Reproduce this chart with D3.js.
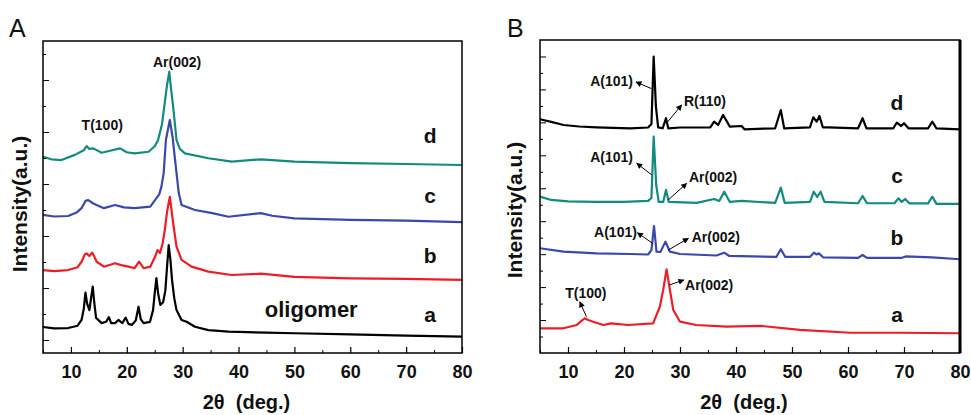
<!DOCTYPE html>
<html>
<head>
<meta charset="utf-8">
<script src="https://cdn.jsdelivr.net/npm/d3@7"></script>
<style>
body { margin: 0; background: #fff; }
text { font-family: "Liberation Sans", Arial, sans-serif; }
</style>
</head>
<body>
<div id="chart"></div>
<script>
var W = 971, H = 415;

// panel A series: [2theta, intensity]
var A_a = [[5,1.0],[7,0.95],[9.5,0.96],[11.2,1.05],[11.9,1.27],[12.3,1.7],[12.6,2.32],[12.9,1.9],[13.3,1.65],[13.6,2.1],[13.9,2.55],[14.2,1.9],[14.5,1.35],[15.5,1.15],[16.3,1.2],[16.8,1.38],[17.2,1.15],[17.9,1.15],[18.5,1.27],[19.2,1.15],[19.8,1.36],[20.3,1.12],[20.9,1.08],[21.6,1.25],[22.1,1.78],[22.5,1.3],[23.0,1.15],[24.15,1.2],[24.7,1.65],[25.0,2.3],[25.3,2.88],[25.6,2.3],[26.0,1.85],[26.5,1.95],[26.9,2.4],[27.2,3.3],[27.5,4.15],[27.8,3.6],[28.1,2.8],[28.5,2.1],[28.9,1.65],[29.8,1.27],[30.7,1.2],[32.2,1.01],[34.6,0.88],[38.2,0.82],[45,0.78],[50,0.76],[60,0.72],[70,0.67],[80,0.63]];
var A_b = [[5,3.19],[7,3.15],[9.5,3.19],[11.2,3.3],[11.9,3.51],[12.5,3.8],[12.8,3.83],[13.3,3.73],[13.8,3.86],[14.2,3.7],[14.6,3.51],[15.9,3.32],[17.9,3.45],[19,3.38],[20.3,3.32],[21.4,3.26],[22.2,3.51],[23.0,3.26],[24.2,3.32],[25.05,3.7],[25.5,3.96],[25.95,3.85],[26.4,4.2],[26.8,4.73],[27.2,5.42],[27.7,6.01],[28.0,5.5],[28.3,4.99],[28.9,4.09],[29.8,3.58],[31.6,3.32],[34.6,3.13],[38.8,3.0],[44,3.05],[50,2.93],[60,2.87],[70,2.85],[80,2.81]];
var A_c = [[5,5.31],[7,5.25],[9.5,5.27],[11.0,5.4],[11.9,5.57],[12.6,5.85],[13.1,5.88],[14.0,5.75],[14.6,5.69],[15.9,5.57],[17.9,5.69],[19.5,5.6],[21.4,5.57],[24.2,5.63],[25.05,5.88],[25.8,6.1],[26.2,6.4],[26.6,6.92],[27.0,8.19],[27.7,8.96],[28.2,8.3],[28.5,7.7],[28.9,6.92],[29.3,6.15],[29.8,5.69],[32.2,5.5],[35.3,5.38],[38.2,5.24],[44,5.38],[46,5.28],[50,5.18],[60,5.12],[70,5.09],[80,5.03]];
var A_d = [[5,7.55],[6.5,7.45],[8.3,7.42],[10.7,7.62],[12.3,7.8],[12.8,7.96],[13.3,7.85],[14,7.87],[15.5,7.7],[17,7.78],[18.8,7.87],[20,7.72],[21.4,7.68],[23.9,7.74],[25.0,7.95],[25.6,8.19],[26.3,8.8],[26.7,9.47],[27.2,10.3],[27.6,10.82],[27.9,10.2],[28.3,9.47],[28.9,8.19],[29.5,7.85],[30.4,7.68],[34.6,7.49],[38.8,7.36],[44,7.45],[50,7.36],[60,7.3],[70,7.27],[80,7.23]];

// panel B series
var B_a = [[5,1.5],[9.2,1.5],[11.55,1.7],[12.4,1.95],[13.0,2.11],[13.6,2.0],[14.5,1.9],[16.3,1.7],[17.7,1.8],[20.7,1.7],[25.2,1.8],[26.4,2.81],[27.0,3.83],[27.6,5.08],[28.2,3.83],[28.8,2.61],[30,1.9],[32.9,1.7],[38.3,1.6],[44.3,1.65],[51.4,1.4],[60.4,1.23],[69.3,1.23],[80,1.2]];
var B_b = [[5,6.36],[9.2,6.15],[15.1,6.05],[21.1,6.01],[24.3,5.98],[24.9,6.25],[25.36,7.71],[25.8,6.15],[26.5,6.13],[27.4,6.76],[28.2,6.15],[30,6.01],[36.5,5.92],[37.9,6.09],[38.8,5.89],[47.2,5.83],[48.0,6.3],[48.8,5.83],[53.2,5.83],[53.9,6.09],[54.4,5.98],[54.8,6.05],[55.6,5.8],[61.8,5.77],[62.6,5.95],[63.4,5.77],[69.5,5.77],[70.3,5.86],[75,5.8],[80,5.69]];
var B_c = [[5,9.49],[7,9.29],[10,9.2],[15,9.17],[20,9.17],[24.3,9.23],[24.9,9.41],[25.3,13.13],[25.75,10.2],[26.2,9.17],[27.0,9.17],[27.5,9.9],[28.0,9.17],[33,9.11],[36.1,9.35],[37.0,9.23],[37.9,9.79],[38.9,9.17],[41,9.23],[47,9.11],[48.0,10.04],[48.7,9.11],[53.2,9.17],[53.9,9.79],[54.5,9.47],[55.1,9.79],[55.8,9.17],[61.8,9.09],[62.6,9.53],[63.4,9.09],[68.3,9.09],[69.0,9.39],[69.6,9.17],[70.2,9.35],[71,9.08],[74.3,9.08],[75.05,9.49],[75.8,9.05],[80,9.05]];
var B_d = [[5,14.19],[7,14.03],[9.2,13.84],[12,13.75],[15.1,13.7],[21.1,13.64],[24.3,13.69],[24.9,13.9],[25.3,17.99],[25.7,14.95],[26.1,13.7],[26.9,13.64],[27.5,14.25],[27.9,13.64],[30,13.69],[35.4,13.7],[36.1,14.04],[36.8,13.84],[37.7,14.45],[38.9,13.74],[41.0,13.78],[41.5,13.58],[47.0,13.64],[48.0,14.75],[48.6,13.64],[53.2,13.7],[53.8,14.31],[54.4,14.04],[54.9,14.39],[55.5,13.7],[56.5,13.7],[61.8,13.64],[62.6,14.25],[63.3,13.64],[68.1,13.64],[68.7,13.98],[69.5,13.78],[70.0,13.95],[70.8,13.64],[74.3,13.64],[75.05,14.04],[75.8,13.64],[80,13.58]];

var xTicks = [10, 20, 30, 40, 50, 60, 70, 80];
var xMinor = [5, 15, 25, 35, 45, 55, 65, 75];
var curveNames = ["a", "b", "c", "d"];
var colorsA = ["#000000", "#ee1c25", "#3a48ab", "#128a80"];
var colorsB = ["#ee1c25", "#3a48ab", "#128a80", "#000000"];

var svg = d3.select("#chart").append("svg")
    .attr("width", W)
    .attr("height", H);

var defs = svg.append("defs");
defs.append("marker")
    .attr("id", "head")
    .attr("viewBox", "0 0 10 10")
    .attr("refX", 9).attr("refY", 5)
    .attr("markerWidth", 8).attr("markerHeight", 6)
    .attr("markerUnits", "userSpaceOnUse")
    .attr("orient", "auto-start-reverse")
    .append("path")
    .attr("d", "M0,0 L10,5 L0,10 z")
    .attr("fill", "#000");

function panel(cfg) {
    var x = d3.scaleLinear().domain([5, 80]).range([cfg.left, cfg.right]);
    var y = d3.scaleLinear().domain([0, cfg.ymax]).range([353, cfg.top]);
    var g = svg.append("g");

    // curves
    var line = d3.line()
        .x(function(d) { return x(d[0]); })
        .y(function(d) { return y(d[1]); });
    cfg.series.forEach(function(s, i) {
        g.append("path")
            .datum(s)
            .attr("d", line)
            .attr("fill", "none")
            .attr("stroke", cfg.colors[i])
            .attr("stroke-width", 2.2)
            .attr("stroke-linejoin", "round");
    });

    // bottom axis, ticks pointing in
    var xAxis = g.append("g")
        .attr("transform", "translate(0,353)")
        .call(d3.axisBottom(x).tickValues(xTicks).tickSize(-6).tickPadding(12).tickFormat(d3.format("d")));
    xAxis.select(".domain").remove();
    xAxis.selectAll("line").attr("stroke-width", 1.2);
    xAxis.selectAll("text")
        .attr("font-size", "18px")
        .attr("font-weight", "bold")
        .attr("fill", "#111");
    var xAxis2 = g.append("g")
        .attr("transform", "translate(0,353)")
        .call(d3.axisBottom(x).tickValues(xMinor).tickSize(-3).tickFormat(""));
    xAxis2.select(".domain").remove();

    // left axis, no labels
    var yAxis = g.append("g")
        .attr("transform", "translate(" + cfg.left + ",0)")
        .call(d3.axisLeft(y).tickValues(cfg.yMajor).tickSize(-6).tickFormat(""));
    yAxis.select(".domain").remove();
    var yAxis2 = g.append("g")
        .attr("transform", "translate(" + cfg.left + ",0)")
        .call(d3.axisLeft(y).tickValues(cfg.yMinor).tickSize(-3).tickFormat(""));
    yAxis2.select(".domain").remove();

    // frame
    g.append("rect")
        .attr("x", cfg.left).attr("y", cfg.top)
        .attr("width", cfg.right - cfg.left)
        .attr("height", 353 - cfg.top)
        .attr("fill", "none")
        .attr("stroke", "#000")
        .attr("stroke-width", 1.5);
    if (cfg.thickRight) {
        g.append("line")
            .attr("x1", cfg.right).attr("x2", cfg.right)
            .attr("y1", cfg.top).attr("y2", 353)
            .attr("stroke", "#000").attr("stroke-width", 3);
    }

    // titles
    g.append("text")
        .attr("x", (cfg.left + cfg.right) / 2 - 6)
        .attr("y", 409)
        .attr("text-anchor", "middle")
        .attr("font-size", "20px")
        .attr("font-weight", "bold")
        .attr("fill", "#111")
        .style("white-space", "pre")
        .text("2\u03b8  (deg.)");
    g.append("text")
        .attr("transform", "translate(" + cfg.ytx + "," + cfg.yty + ") rotate(-90)")
        .attr("text-anchor", "middle")
        .attr("font-size", "21px")
        .attr("font-weight", "bold")
        .attr("fill", "#111")
        .text("Intensity(a.u.)");
    g.append("text")
        .attr("x", cfg.letterX)
        .attr("y", 37)
        .attr("font-size", "25px")
        .attr("fill", "#111")
        .text(cfg.letter);

    // curve letters
    cfg.curveLabels.forEach(function(v, i) {
        g.append("text")
            .attr("x", x(cfg.curveLabelX))
            .attr("y", y(v))
            .attr("text-anchor", "middle")
            .attr("font-size", "21px")
            .attr("font-weight", "bold")
            .attr("fill", "#111")
            .text(curveNames[i]);
    });

    // peak annotations
    cfg.notes.forEach(function(n) {
        g.append("text")
            .attr("x", x(n.x))
            .attr("y", y(n.y))
            .attr("text-anchor", n.anchor)
            .attr("font-size", n.size || "14px")
            .attr("font-weight", "bold")
            .attr("fill", "#111")
            .text(n.t);
    });
    cfg.arrows.forEach(function(a) {
        g.append("line")
            .attr("x1", x(a[0])).attr("y1", y(a[1]))
            .attr("x2", x(a[2])).attr("y2", y(a[3]))
            .attr("stroke", "#000")
            .attr("stroke-width", 1)
            .attr("marker-start", "url(#head)");
    });
}

panel({
    left: 43, right: 462, top: 41, ymax: 12,
    yMajor: [0.5, 2.5, 4.5, 6.5, 8.5, 10.5],
    yMinor: [1.5, 3.5, 5.5, 7.5, 9.5, 11.5],
    series: [A_a, A_b, A_c, A_d], colors: colorsA,
    ytx: 27, yty: 204, letter: "A", letterX: 9,
    curveLabelX: 74.3, curveLabels: [1.19, 3.46, 5.77, 8.08],
    notes: [
        {t: "Ar(002)", x: 29.0, y: 11.0, anchor: "middle"},
        {t: "T(100)", x: 15.6, y: 8.58, anchor: "middle"},
        {t: "oligomer", x: 44.7, y: 1.38, anchor: "start", size: "22px"}
    ],
    arrows: []
});

panel({
    left: 540, right: 960, top: 40, ymax: 19,
    yMajor: [2, 4, 6, 8, 10, 12, 14, 16, 18],
    yMinor: [1, 3, 5, 7, 9, 11, 13, 15, 17],
    series: [B_a, B_b, B_c, B_d], colors: colorsB,
    ytx: 522, yty: 210, letter: "B", letterX: 507, thickRight: true,
    curveLabelX: 68.75, curveLabels: [1.88, 6.56, 10.32, 14.75],
    notes: [
        {t: "A(101)", x: 21.6, y: 16.21, anchor: "end"},
        {t: "R(110)", x: 30.7, y: 15.0, anchor: "start"},
        {t: "A(101)", x: 21.6, y: 11.6, anchor: "end"},
        {t: "Ar(002)", x: 31.6, y: 10.38, anchor: "start"},
        {t: "A(101)", x: 22.3, y: 7.04, anchor: "end"},
        {t: "Ar(002)", x: 32.1, y: 6.74, anchor: "start"},
        {t: "T(100)", x: 13.2, y: 3.34, anchor: "middle"},
        {t: "Ar(002)", x: 30.9, y: 3.83, anchor: "start"}
    ],
    // head x, head y, tail x, tail y
    arrows: [
        [22.14, 16.45, 24.9, 16.05],
        [30.3, 15.06, 27.6, 13.95],
        [22.27, 11.52, 24.95, 10.81],
        [31.2, 10.3, 27.9, 9.29],
        [22.4, 7.3, 25.1, 6.66],
        [31.5, 6.96, 27.9, 6.25],
        [12.1, 3.11, 13.3, 2.2],
        [30.7, 4.43, 28.1, 4.13]
    ]
});
</script>
</body>
</html>
